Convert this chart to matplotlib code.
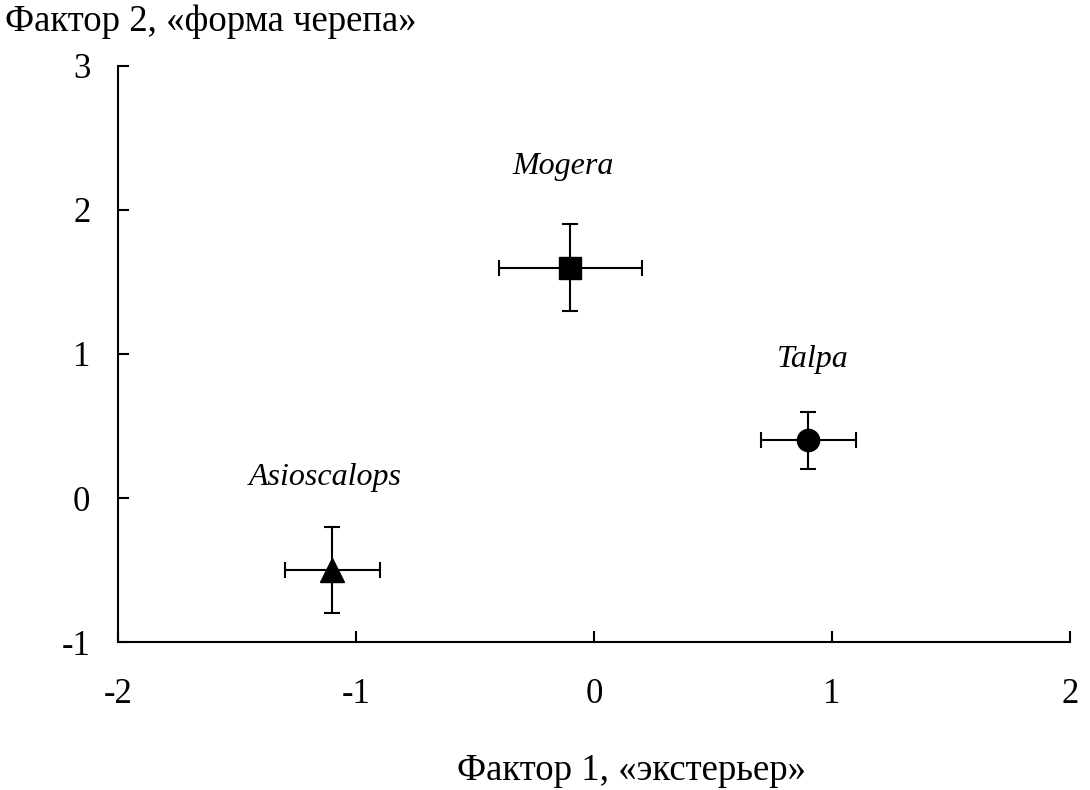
import matplotlib.pyplot as plt

# data
species = ['Mogera', 'Talpa', 'Asioscalops']
factor1 = [-0.1, 0.9, -1.1]
factor2 = [1.6, 0.4, -0.5]
err1 = [0.3, 0.2, 0.2]
err2 = [0.3, 0.2, 0.3]
markers = ['s', 'o', '^']
msizes = [16, 16, 17]
label_pos = [(-0.13, 2.3), (0.92, 0.96), (-1.13, 0.14)]

plt.rcParams['font.family'] = ['Liberation Serif', 'DejaVu Serif']

fig = plt.figure(figsize=(10.9, 7.9), dpi=100)
ax = fig.add_axes([0.1083, 0.1873, 0.8734, 0.7292])

for x, y, ex, ey, m, ms in zip(factor1, factor2, err1, err2, markers, msizes):
    ax.errorbar(x, y, xerr=ex, yerr=ey, fmt=m, color='black',
                markersize=ms, elinewidth=1.5, capsize=6, capthick=1.5)

for name, (lx, ly) in zip(species, label_pos):
    ax.text(lx, ly, name, style='italic', fontsize=23,
            ha='center', va='center')

ax.set_xlim(-2, 2)
ax.set_ylim(-1, 3)
ax.set_xticks([-2, -1, 0, 1, 2])
ax.set_yticks([-1, 0, 1, 2, 3])
ax.set_xticklabels(['-2', '-1', '0', '1', '2'])
ax.set_yticklabels(['-1', '0', '1', '2', '3'])
ax.tick_params(direction='in', length=8, width=1.5, labelsize=25)
ax.tick_params(axis='x', pad=26)
ax.tick_params(axis='y', pad=20)
ax.spines['top'].set_visible(False)
ax.spines['right'].set_visible(False)
ax.spines['left'].set_linewidth(1.5)
ax.spines['bottom'].set_linewidth(1.5)

fig.text(0.005, 0.972, 'Фактор 2, «форма черепа»', fontsize=26.5,
         ha='left', va='center')
fig.text(0.579, 0.025, 'Фактор 1, «экстерьер»', fontsize=26.5,
         ha='center', va='center')

fig.savefig('out.png', dpi=100)
